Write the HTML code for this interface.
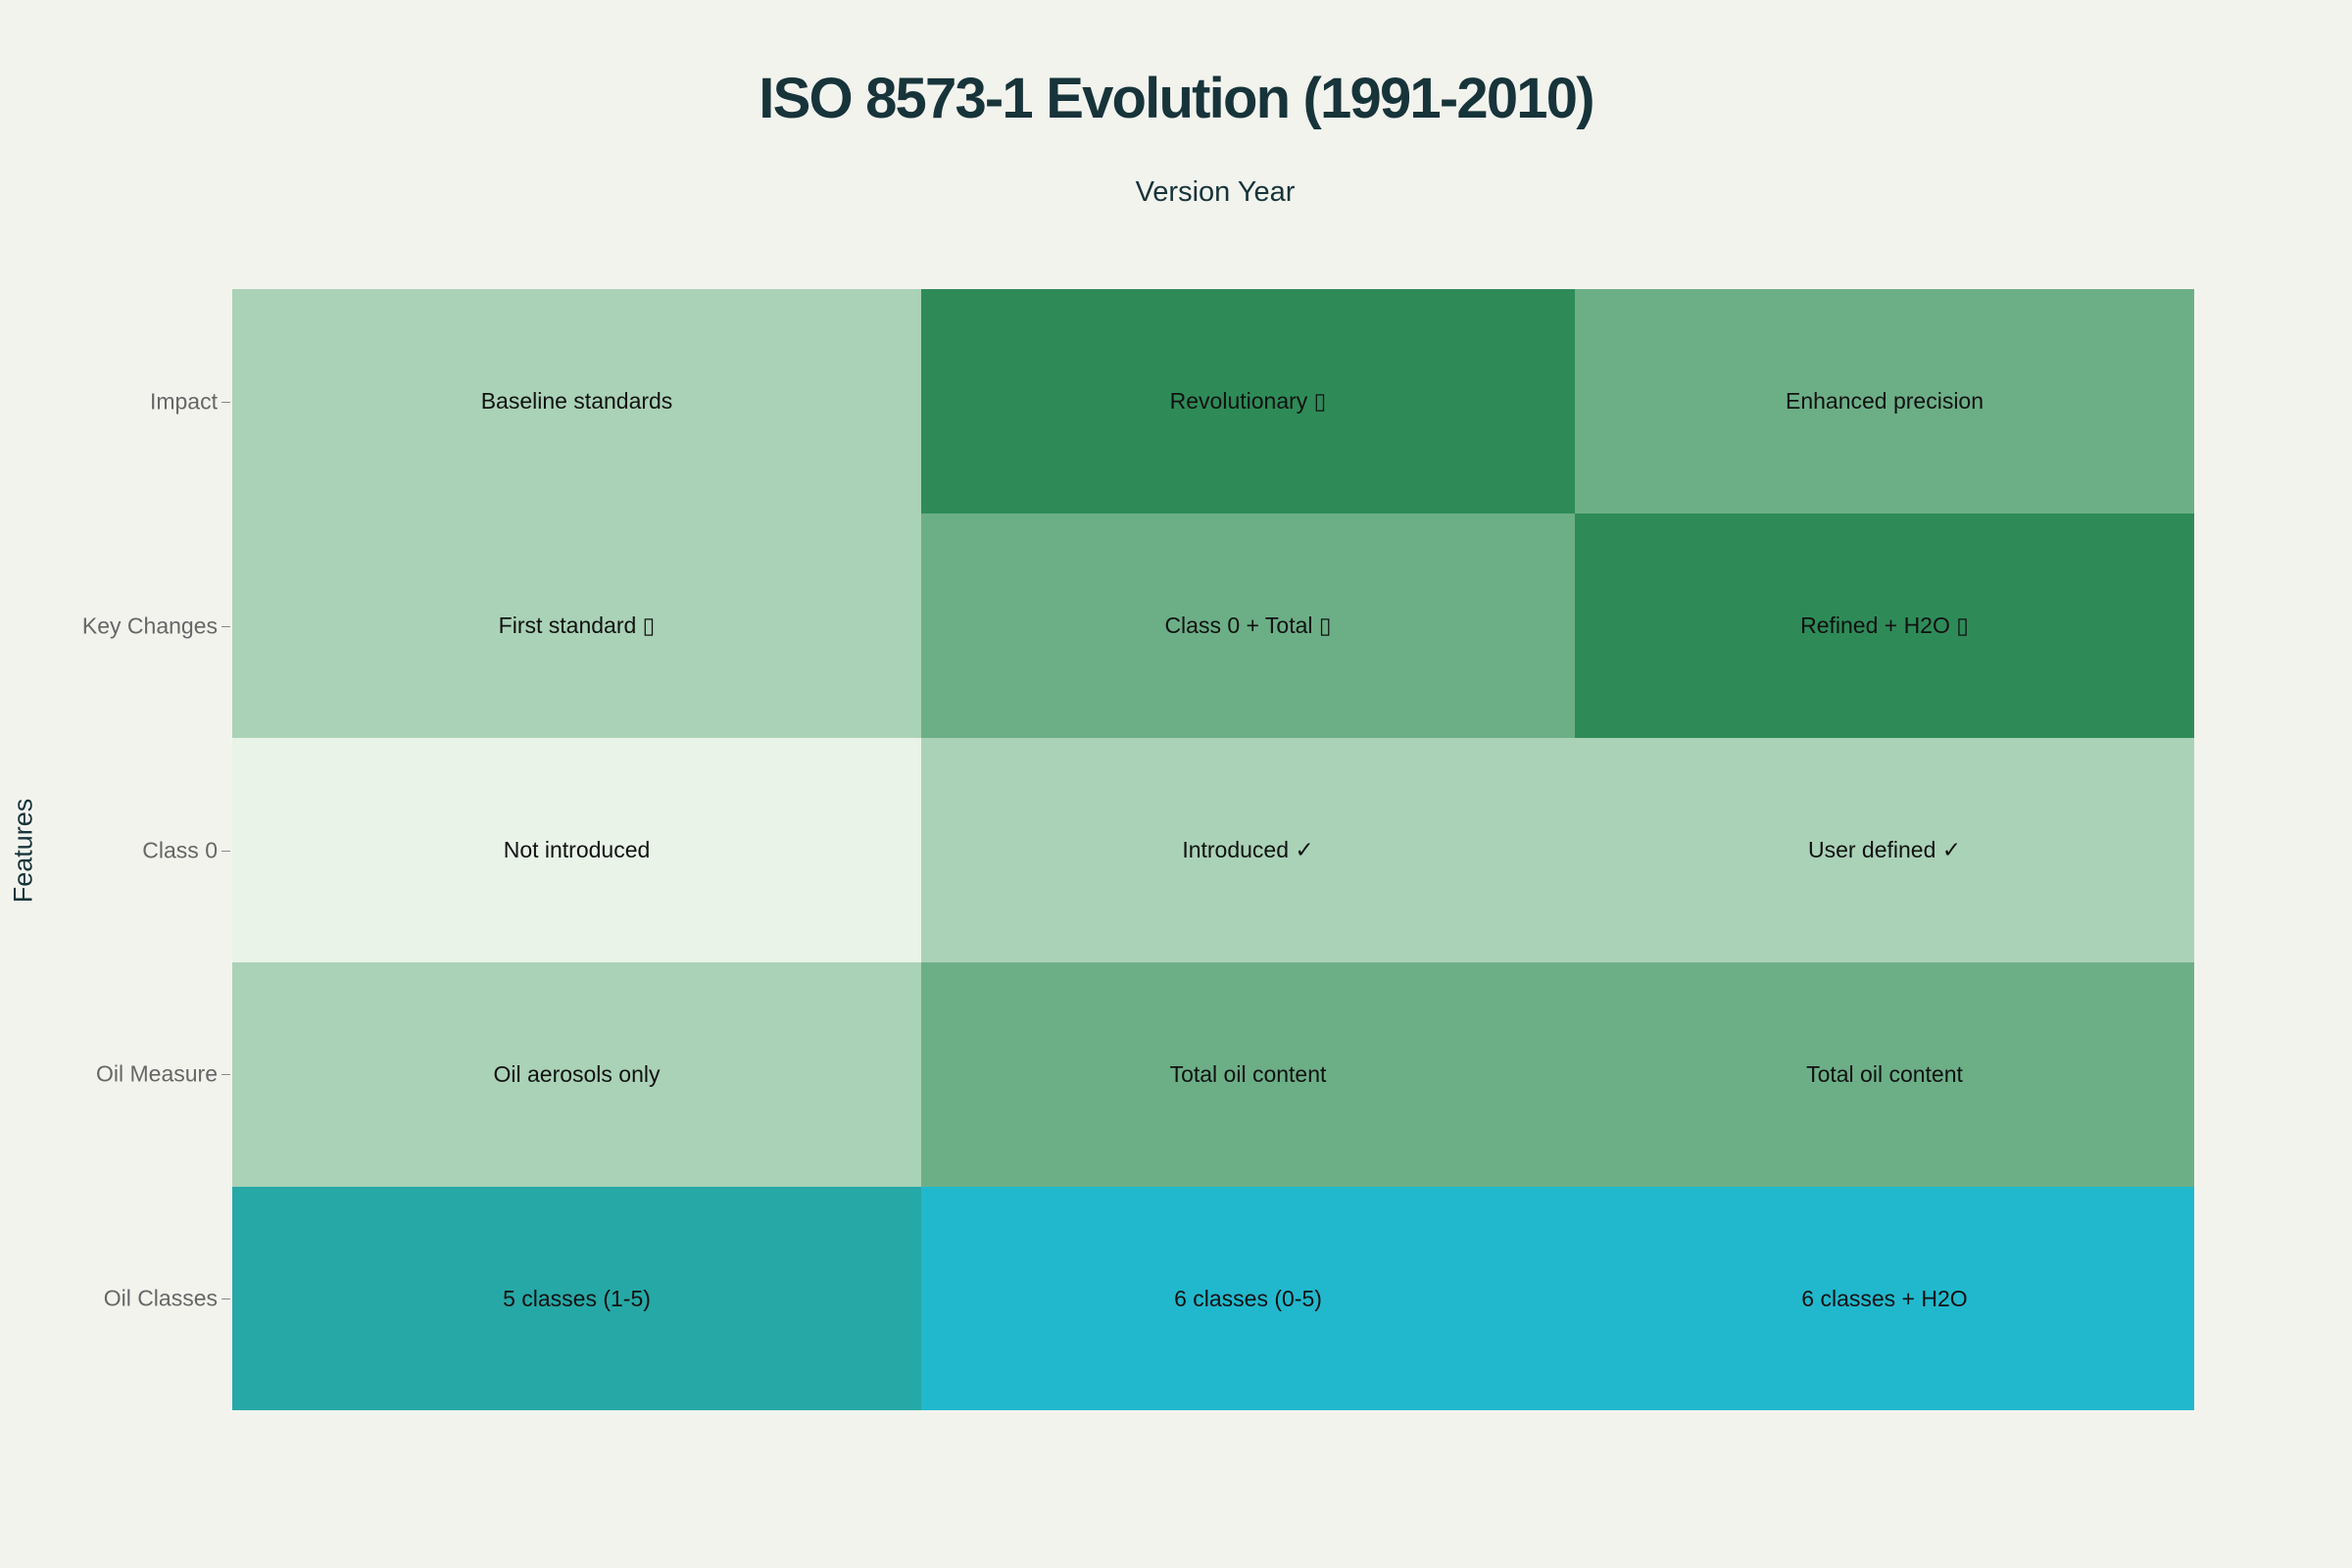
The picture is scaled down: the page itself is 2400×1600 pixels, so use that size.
<!DOCTYPE html>
<html><head><meta charset="utf-8"><style>
html,body{margin:0;padding:0;background:#f3f3ee;}
body{width:2400px;height:1600px;position:relative;overflow:hidden;font-family:"Liberation Sans","DejaVu Sans",sans-serif;}
.t{position:absolute;white-space:nowrap;}
.cell{position:absolute;display:flex;align-items:center;justify-content:center;font-size:23px;color:#111;}
.yl{position:absolute;right:2178px;font-size:23px;color:#666;transform:translateY(-50%);}
.tick{position:absolute;left:226px;width:9px;height:1px;background:#888;}
</style></head><body>
<div class="t" style="left:0;width:2400px;text-align:center;top:67px;font-size:58px;font-weight:bold;color:#17343a;letter-spacing:-1.8px;">ISO 8573-1 Evolution (1991-2010)</div>
<div class="t" style="left:0;width:2480px;text-align:center;top:180px;font-size:29px;color:#17343a;">Version Year</div>
<div class="t" style="left:24px;top:868px;font-size:27px;color:#17343a;transform:translate(-50%,-50%) rotate(-90deg);">Features</div>

<div class="cell" style="left:237px;top:295px;width:703px;height:229px;background:#aad2b7">Baseline standards</div>
<div class="cell" style="left:940px;top:295px;width:667px;height:229px;background:#2e8b58">Revolutionary ▯</div>
<div class="cell" style="left:1607px;top:295px;width:632px;height:229px;background:#6caf87">Enhanced precision</div>

<div class="cell" style="left:237px;top:524px;width:703px;height:229px;background:#aad2b7">First standard ▯</div>
<div class="cell" style="left:940px;top:524px;width:667px;height:229px;background:#6caf87">Class 0 + Total ▯</div>
<div class="cell" style="left:1607px;top:524px;width:632px;height:229px;background:#2e8b58">Refined + H2O ▯</div>

<div class="cell" style="left:237px;top:753px;width:703px;height:229px;background:#e9f3e8">Not introduced</div>
<div class="cell" style="left:940px;top:753px;width:667px;height:229px;background:#aad2b7">Introduced ✓</div>
<div class="cell" style="left:1607px;top:753px;width:632px;height:229px;background:#aad2b7">User defined ✓</div>

<div class="cell" style="left:237px;top:982px;width:703px;height:229px;background:#aad2b7">Oil aerosols only</div>
<div class="cell" style="left:940px;top:982px;width:667px;height:229px;background:#6caf87">Total oil content</div>
<div class="cell" style="left:1607px;top:982px;width:632px;height:229px;background:#6caf87">Total oil content</div>

<div class="cell" style="left:237px;top:1211px;width:703px;height:228px;background:#26a8a6">5 classes (1-5)</div>
<div class="cell" style="left:940px;top:1211px;width:667px;height:228px;background:#21b8cd">6 classes (0-5)</div>
<div class="cell" style="left:1607px;top:1211px;width:632px;height:228px;background:#21b8cd">6 classes + H2O</div>

<div class="yl" style="top:410px">Impact</div><div class="tick" style="top:410px"></div>
<div class="yl" style="top:639px">Key Changes</div><div class="tick" style="top:639px"></div>
<div class="yl" style="top:868px">Class 0</div><div class="tick" style="top:868px"></div>
<div class="yl" style="top:1096px">Oil Measure</div><div class="tick" style="top:1096px"></div>
<div class="yl" style="top:1325px">Oil Classes</div><div class="tick" style="top:1325px"></div>
</body></html>
